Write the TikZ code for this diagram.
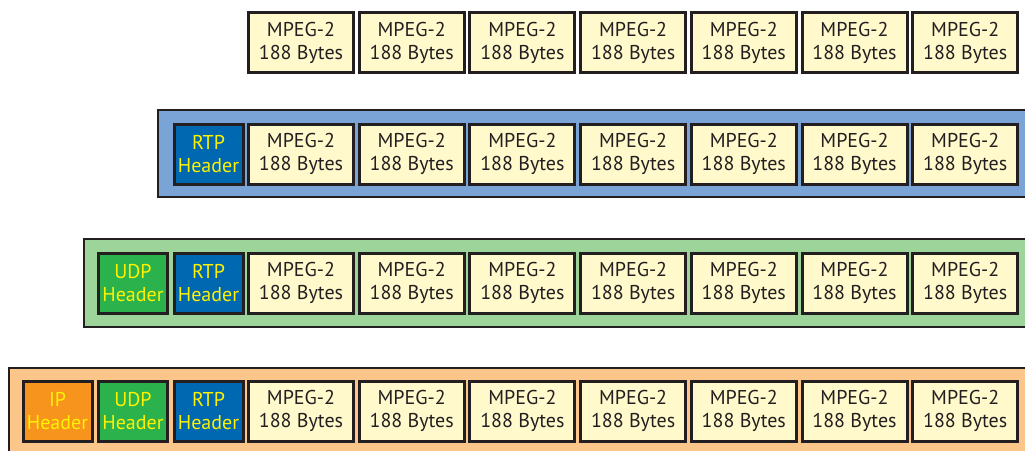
\documentclass[tikz,border=0pt]{standalone}
\usepackage{fontspec}
\setmainfont{PT Sans}
\usepackage{tikz}

\definecolor{inkline}{HTML}{231F20}
\definecolor{mpegfill}{HTML}{FFF9CC}
\definecolor{rtpfill}{HTML}{0068B0}
\definecolor{udpfill}{HTML}{2BB24C}
\definecolor{ipfill}{HTML}{F7941D}
\definecolor{rtpframe}{HTML}{7BA4D6}
\definecolor{udpframe}{HTML}{9DD49A}
\definecolor{ipframe}{HTML}{FCC589}
\definecolor{hdrtext}{HTML}{FFF200}

\tikzset{
  mpeg/.style={draw=inkline,line width=3pt,fill=mpegfill,text=inkline,
    minimum width=105pt,minimum height=60pt,inner sep=0pt,align=center,
    font=\fontsize{20}{23}\selectfont},
  hdr/.style={draw=inkline,line width=3pt,text=hdrtext,
    minimum width=69pt,minimum height=60pt,inner sep=0pt,align=center,
    font=\fontsize{20}{23}\selectfont},
  frame/.style={draw=inkline,line width=2.5pt}
}

\begin{document}
\begin{tikzpicture}[x=1pt,y=-1pt]
			\useasboundingbox (0,0) rectangle (1025,450);
			\clip (0,0) rectangle (1025,450);
			% frames
			\draw[frame,fill=rtpframe] (158,110) rectangle (1040,197);
			\draw[frame,fill=udpframe] (84,239) rectangle (1040,327);
			\draw[frame,fill=ipframe] (9,368) rectangle (1040,460);
			% row 1
			\node[mpeg](m11) at (301,42.5) {MPEG-2\\188 Bytes};
			\node[mpeg](m12) at (411.7,42.5) {MPEG-2\\188 Bytes};
			\node[mpeg](m13) at (522.4,42.5) {MPEG-2\\188 Bytes};
			\node[mpeg](m14) at (633.1,42.5) {MPEG-2\\188 Bytes};
			\node[mpeg](m15) at (743.8,42.5) {MPEG-2\\188 Bytes};
			\node[mpeg](m16) at (854.5,42.5) {MPEG-2\\188 Bytes};
			\node[mpeg](m17) at (965.2,42.5) {MPEG-2\\188 Bytes};
			% row 2
			\node[hdr,fill=rtpfill](rtp2) at (208.5,154) {RTP\\Header};
			\node[mpeg](m21) at (301,154) {MPEG-2\\188 Bytes};
			\node[mpeg](m22) at (411.7,154) {MPEG-2\\188 Bytes};
			\node[mpeg](m23) at (522.4,154) {MPEG-2\\188 Bytes};
			\node[mpeg](m24) at (633.1,154) {MPEG-2\\188 Bytes};
			\node[mpeg](m25) at (743.8,154) {MPEG-2\\188 Bytes};
			\node[mpeg](m26) at (854.5,154) {MPEG-2\\188 Bytes};
			\node[mpeg](m27) at (965.2,154) {MPEG-2\\188 Bytes};
			% row 3
			\node[hdr,fill=udpfill](udp3) at (133,283) {UDP\\Header};
			\node[hdr,fill=rtpfill](rtp3) at (208.5,283) {RTP\\Header};
			\node[mpeg](m31) at (301,283) {MPEG-2\\188 Bytes};
			\node[mpeg](m32) at (411.7,283) {MPEG-2\\188 Bytes};
			\node[mpeg](m33) at (522.4,283) {MPEG-2\\188 Bytes};
			\node[mpeg](m34) at (633.1,283) {MPEG-2\\188 Bytes};
			\node[mpeg](m35) at (743.8,283) {MPEG-2\\188 Bytes};
			\node[mpeg](m36) at (854.5,283) {MPEG-2\\188 Bytes};
			\node[mpeg](m37) at (965.2,283) {MPEG-2\\188 Bytes};
			% row 4
			\node[hdr,fill=ipfill](ip4) at (57.5,411) {IP\\Header};
			\node[hdr,fill=udpfill](udp4) at (133,411) {UDP\\Header};
			\node[hdr,fill=rtpfill](rtp4) at (208.5,411) {RTP\\Header};
			\node[mpeg](m41) at (301,411) {MPEG-2\\188 Bytes};
			\node[mpeg](m42) at (411.7,411) {MPEG-2\\188 Bytes};
			\node[mpeg](m43) at (522.4,411) {MPEG-2\\188 Bytes};
			\node[mpeg](m44) at (633.1,411) {MPEG-2\\188 Bytes};
			\node[mpeg](m45) at (743.8,411) {MPEG-2\\188 Bytes};
			\node[mpeg](m46) at (854.5,411) {MPEG-2\\188 Bytes};
			\node[mpeg](m47) at (965.2,411) {MPEG-2\\188 Bytes};
		\end{tikzpicture}
\end{document}
